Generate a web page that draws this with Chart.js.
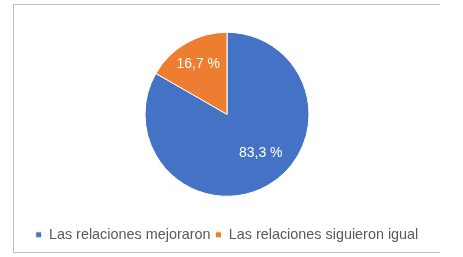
<!DOCTYPE html>
<html>
<head>
<meta charset="utf-8">
<script src="https://cdn.jsdelivr.net/npm/chart.js@4.4.0/dist/chart.umd.min.js"></script>
<style>
  html, body { margin: 0; padding: 0; background: #fff; }
  .frame {
    position: absolute; left: 13px; top: 4px;
    width: 426px; height: 247px;
    border-top: 1px solid #bfbfbf;
    border-left: 1px solid #bfbfbf;
    border-bottom: 1px solid #bfbfbf;
  }
  canvas { display: block; }
</style>
</head>
<body>
<div class="frame"><canvas id="pie" width="426" height="247"></canvas></div>
<script>
// ── Data ──────────────────────────────────────
const categories = ['Las relaciones mejoraron', 'Las relaciones siguieron igual'];
const shares     = [83.3, 16.7];
const colors     = ['#4472C4', '#ED7D31'];

const FONT = 'Liberation Sans, Arial, sans-serif';

// ── Slice labels (Excel style "83,3 %") ───────
const sliceLabels = {
  id: 'sliceLabels',
  afterDatasetsDraw(chart, args, opts) {
    const { ctx } = chart;
    const meta = chart.getDatasetMeta(0);
    ctx.save();
    ctx.font = '14px ' + FONT;
    ctx.fillStyle = '#ffffff';
    ctx.textAlign = 'center';
    ctx.textBaseline = 'middle';
    meta.data.forEach((arc, i) => {
      const mid = (arc.startAngle + arc.endAngle) / 2;
      const r = arc.outerRadius * opts.frac;
      const nudge = opts.nudge[i] || [0, 0];
      const x = arc.x + Math.cos(mid) * r + nudge[0];
      const y = arc.y + Math.sin(mid) * r + nudge[1];
      const txt = shares[i].toFixed(1).replace('.', ',') + ' %';
      ctx.fillText(txt, x, y);
    });
    ctx.restore();
  }
};

new Chart(document.getElementById('pie'), {
  type: 'pie',
  data: {
    labels: categories,
    datasets: [{
      data: shares,
      backgroundColor: colors,
      borderColor: '#ffffff',
      borderWidth: 1,
      radius: 82,
    }]
  },
  options: {
    responsive: false,
    animation: false,
    layout: { padding: { top: 1, bottom: 0 } },
    plugins: {
      legend: {
        position: 'bottom',
        labels: {
          font: { family: FONT, size: 14.4 },
          color: '#595959',
          boxWidth: 6,
          boxHeight: 6,
          padding: 5,
        }
      },
      tooltip: { enabled: false },
      sliceLabels: { frac: 0.7, nudge: [[5, -11], [0, 0]] }
    }
  },
  plugins: [sliceLabels]
});
</script>
</body>
</html>
